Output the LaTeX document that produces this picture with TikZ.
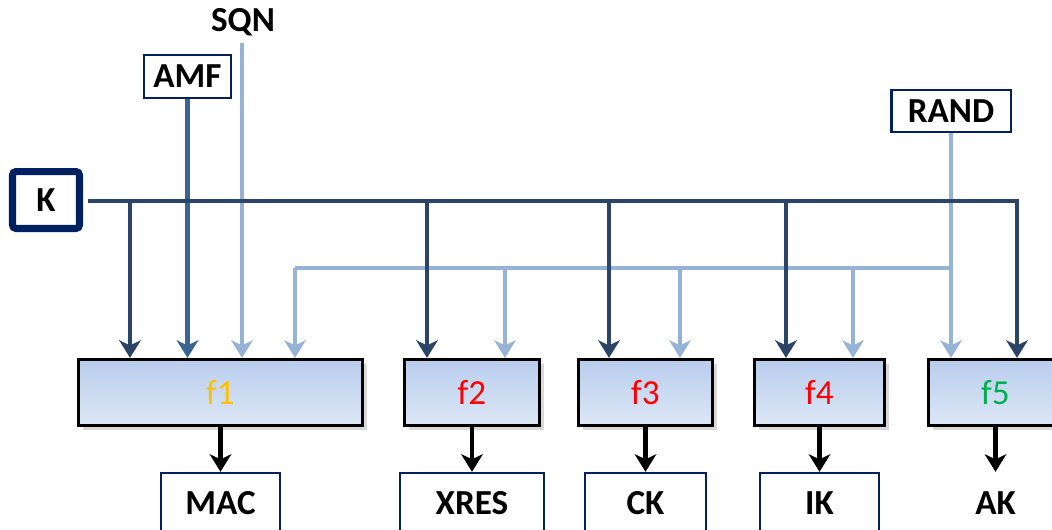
\documentclass[tikz,border=0pt]{standalone}
\usepackage{fontspec}
\setmainfont{Carlito}
\usetikzlibrary{arrows.meta, positioning, shadows, calc}
\definecolor{kNavy}{HTML}{002060}
\definecolor{lnDark}{HTML}{2B4569}
\definecolor{lnMid}{HTML}{3A6494}
\definecolor{lnLight}{HTML}{95B3D7}
\definecolor{fTop}{HTML}{B8CDEC}
\definecolor{fBot}{HTML}{DDE7F6}
\definecolor{cOrange}{HTML}{FFC000}
\definecolor{cRedF}{HTML}{FF0000}
\definecolor{cGreenF}{HTML}{00B050}
\tikzset{
  akabox/.style={rectangle, draw=kNavy, line width=1.4pt, fill=white,
                 inner sep=0pt, font=\bfseries\fontsize{20}{24}\selectfont},
  akakey/.style={akabox, line width=4pt, rounded corners=2pt},
  akaout/.style={akabox, minimum height=1.2cm},
  akafun/.style={rectangle, draw=black, line width=1.6pt, minimum height=1.33cm,
                 top color=fTop, bottom color=fBot, inner sep=0pt,
                 drop shadow={opacity=0.3, shadow xshift=2.5pt, shadow yshift=-2.5pt},
                 font=\fontsize{20}{24}\selectfont},
  akatip/.style={-{Stealth[length=3.5mm, width=4.3mm, inset=1mm]}},
  akadark/.style={lnDark, line width=2.3pt},
  akalight/.style={lnLight, line width=2.3pt},
  akaarrow/.style={akatip, line width=2.3pt},
}

\begin{document}
\begin{tikzpicture}[x=0.02cm, y=-0.02cm]
  \useasboundingbox (0,0) rectangle (1052,529);
  % Inputs
  \node[akakey, minimum width=1.34cm, minimum height=1.14cm] (K) at (46,200) {K};
  \node[akabox, minimum width=1.73cm, minimum height=0.85cm] (AMF) at (187.5,76.5) {AMF};
  \node[font=\bfseries\fontsize{20}{24}\selectfont] (SQN) at (243,22) {SQN};
  \node[akabox, minimum width=2.39cm, minimum height=0.83cm] (RAND) at (951,111) {RAND};
  % Functions
  \node[akafun, minimum width=5.67cm, text=cOrange] (f1) at (220.5,392.5) {f1};
  \node[akafun, minimum width=2.69cm, text=cRedF] (f2) at (472,392.5) {f2};
  \node[akafun, minimum width=2.67cm, text=cRedF] (f3) at (645.5,392.5) {f3};
  \node[akafun, minimum width=2.59cm, text=cRedF] (f4) at (819.5,392.5) {f4};
  \node[akafun, minimum width=2.67cm, text=cGreenF] (f5) at (995.5,392.5) {f5};
  % Outputs
  \node[akaout, minimum width=2.39cm] (MAC) at (220.5,503) {MAC};
  \node[akaout, minimum width=2.87cm] (XRES) at (472,503) {XRES};
  \node[akaout, minimum width=2.43cm] (CK) at (645.5,503) {CK};
  \node[akaout, minimum width=2.39cm] (IK) at (819.5,503) {IK};
  \node[akaout, draw=none, fill=none, minimum width=2.4cm] (AK) at (995.5,503) {AK};
  % Junctions
  \coordinate (sqnTop) at (242,43);
  \coordinate (kEnd) at (1017,201);
  \coordinate (rJoin) at (951,268);
  \coordinate (rEnd) at (295,268);
  \foreach \n/\x in {a/130, b/427, c/609, d/786}
    \coordinate (kd\n) at (\x,201);
  \foreach \n/\x in {b/505, c/680, d/853}
    \coordinate (rd\n) at (\x,268);
  % RAND branch
  \draw[akalight] (RAND.south) -- (rJoin) -- (rEnd);
  \draw[akalight, akatip] (rJoin) -- (rJoin |- f5.north);
  \draw[akalight, akatip] (rEnd) -- (rEnd |- f1.north);
  \foreach \n/\f in {b/f2, c/f3, d/f4}
    \draw[akalight, akatip] (rd\n) -- (rd\n |- \f.north);
  % SQN and AMF
  \draw[akalight, akatip] (sqnTop) -- (sqnTop |- f1.north);
  \draw[lnMid, akaarrow] (AMF.south) -- (AMF.south |- f1.north);
  % K branch
  \draw[akadark, akatip, shorten <=3pt] (K.east |- kEnd) -- (kEnd) -- (kEnd |- f5.north);
  \foreach \n/\f in {a/f1, b/f2, c/f3, d/f4}
    \draw[akadark, akatip] (kd\n) -- (kd\n |- \f.north);
  % Results
  \foreach \f/\o in {f1/MAC, f2/XRES, f3/CK, f4/IK, f5/AK}
    \draw[black, akaarrow] (\f.south) -- (\o.north);
\end{tikzpicture}
\end{document}
